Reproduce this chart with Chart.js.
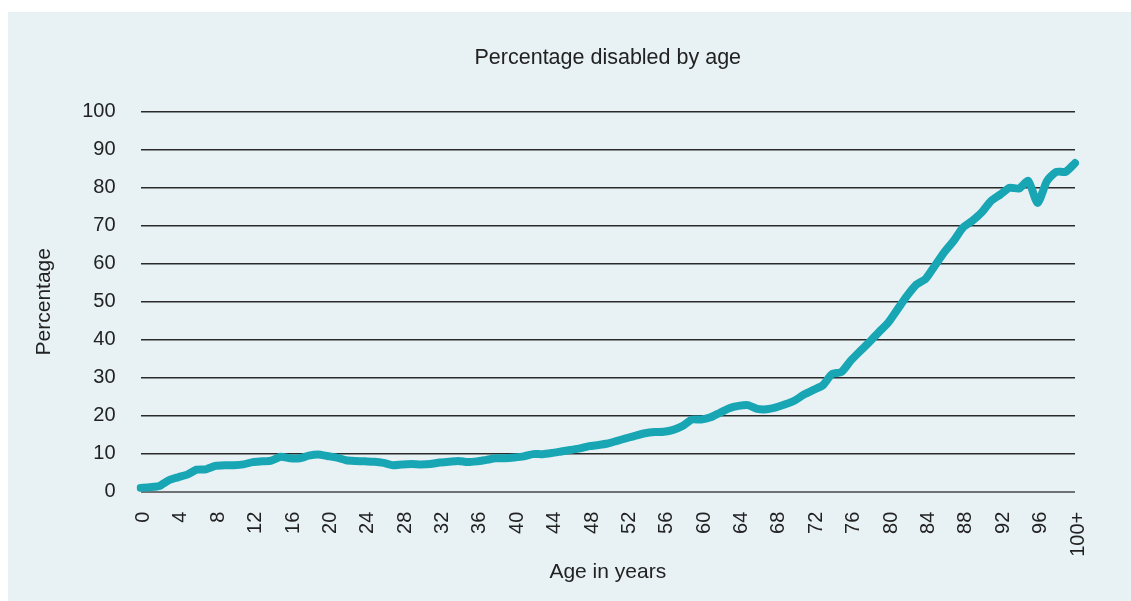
<!DOCTYPE html>
<html>
<head>
<meta charset="utf-8">
<script src="https://cdn.jsdelivr.net/npm/chart.js@4"></script>
<style>
  body { margin: 0; background: #fff; }
  #panel { position: absolute; left: 8px; top: 12px; width: 1123px; height: 589px; background: #e8f2f5; }
</style>
</head>
<body>
<div id="panel"><canvas id="chart1" width="1123" height="589"></canvas></div>
<script>
var ages = [];
for (var a = 0; a < 100; a++) ages.push(String(a));
ages.push("100+");

var disabled = [
  1.0, 1.2, 1.5, 3.0, 3.8, 4.5, 5.8, 5.9, 6.8, 7.0,
  7.0, 7.2, 7.8, 8.0, 8.2, 9.2, 8.8, 8.8, 9.5, 9.8,
  9.4, 9.0, 8.3, 8.1, 8.0, 7.9, 7.6, 7.0, 7.2, 7.3,
  7.2, 7.3, 7.7, 7.9, 8.1, 7.8, 8.0, 8.4, 8.8, 8.8,
  9.0, 9.3, 9.9, 9.9, 10.2, 10.6, 11.0, 11.4, 12.0, 12.3,
  12.7, 13.4, 14.1, 14.8, 15.4, 15.7, 15.8, 16.3, 17.3, 19.0,
  19.0, 19.6, 20.8, 22.0, 22.6, 22.8, 21.8, 21.7, 22.2, 23.0,
  24.0, 25.6, 26.8, 28.0, 31.0, 31.5, 34.5, 37.0, 39.4, 42.0,
  44.5, 48.0, 51.5, 54.5, 56.0, 59.5, 63.0, 66.0, 69.5, 71.3,
  73.5, 76.5, 78.2, 80.0, 79.8, 81.8, 76.0, 81.8, 84.2, 84.2,
  86.5
];

var yTicks = [0, 10, 20, 30, 40, 50, 60, 70, 80, 90, 100];

var fontFamily = '"Liberation Sans", Arial, sans-serif';
var textColor = '#222';

var config = {
  type: 'line',
  data: {
    labels: ages,
    datasets: [
      {
        label: 'Percentage disabled',
        data: disabled,
        borderColor: '#18a6b4',
        borderWidth: 8,
        pointRadius: 0,
        tension: 0.2,
        borderCapStyle: 'round',
        borderJoinStyle: 'round',
        fill: false
      }
    ]
  },
  options: {
    responsive: false,
    animation: false,
    layout: { padding: { top: 23, right: 56, bottom: 12, left: 20 } },
    plugins: {
      legend: { display: false },
      tooltip: { enabled: false },
      title: {
        display: true,
        fullSize: false,
        text: 'Percentage disabled by age',
        color: textColor,
        font: { family: fontFamily, size: 21.5, weight: 'normal' },
        padding: { top: 10, bottom: 41 }
      }
    },
    scales: {
      x: {
        offset: false,
        grid: { display: false, drawTicks: false },
        border: { display: false },
        ticks: {
          autoSkip: false,
          maxRotation: 90,
          minRotation: 90,
          padding: 20,
          labelOffset: 3,
          color: textColor,
          font: { family: fontFamily, size: 20 },
          callback: function (v, i) { return i % 4 === 0 ? ages[i] : null; }
        },
        title: {
          display: true,
          text: 'Age in years',
          color: textColor,
          font: { family: fontFamily, size: 21 },
          padding: { top: -17 }
        }
      },
      y: {
        min: 0,
        max: 100,
        afterBuildTicks: function (axis) {
          axis.ticks = yTicks.map(function (v) { return { value: v }; });
        },
        grid: {
          color: function (ctx) { return ctx.tick && ctx.tick.value === 0 ? '#6f7375' : '#2a2a2a'; },
          lineWidth: function (ctx) { return ctx.tick && ctx.tick.value === 0 ? 2 : 1.5; },
          drawTicks: false
        },
        border: { display: false },
        ticks: {
          padding: 25,
          color: textColor,
          font: { family: fontFamily, size: 20 }
        },
        title: {
          display: true,
          text: 'Percentage',
          color: textColor,
          font: { family: fontFamily, size: 21 },
          padding: { bottom: 0 }
        }
      }
    }
  }
};

var myChart = new Chart(document.getElementById('chart1'), config);
</script>
</body>
</html>
